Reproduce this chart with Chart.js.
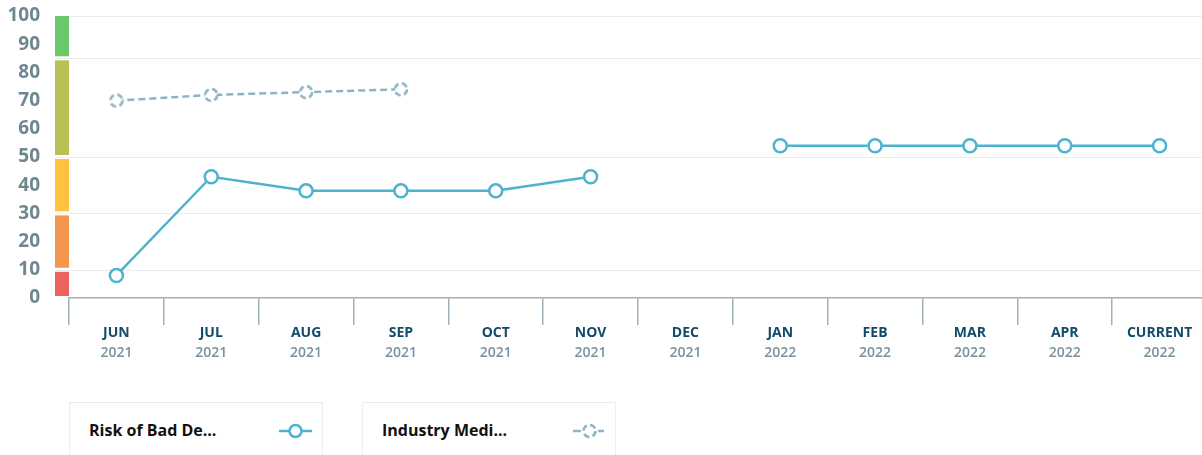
<!DOCTYPE html>
<html><head><meta charset="utf-8">
<script src="https://cdn.jsdelivr.net/npm/chart.js@4.4.0/dist/chart.umd.min.js"></script>
<style>
html,body{margin:0;padding:0;background:#fff;width:1202px;height:455px;overflow:hidden;font-family:"Open Sans",sans-serif}
body{position:relative}
#wrap{position:absolute;left:0;top:0;width:1207px;height:385px}
.leg{position:absolute;top:402px;height:70px;width:254px;border:1px solid #ececec;box-sizing:border-box;background:#fff}
.leg span{position:absolute;left:19px;top:16px;font-weight:700;font-size:16px;line-height:22px;color:#111;white-space:nowrap}
.leg svg{position:absolute;top:19px}
</style></head>
<body>
<div id="wrap"><canvas id="c"></canvas></div>
<div class="leg" id="leg1" style="left:69px"><span id="lt1"></span>
<svg style="left:208px" width="36" height="18"><line x1="1" y1="9" x2="34" y2="9" stroke="#4db3cf" stroke-width="2.5"/><circle cx="17.5" cy="9" r="6" fill="#fff" stroke="#4db3cf" stroke-width="2.5"/></svg></div>
<div class="leg" id="leg2" style="left:362px"><span id="lt2"></span>
<svg style="left:209px" width="36" height="18"><line x1="1" y1="9" x2="9" y2="9" stroke="#8db4c5" stroke-width="2.5"/><line x1="26" y1="9" x2="32" y2="9" stroke="#8db4c5" stroke-width="2.5"/><circle cx="17.5" cy="9" r="6" fill="#fff" stroke="#8db4c5" stroke-width="2.5" stroke-dasharray="6,3.4"/></svg></div>
<script>
const months = ['JUN','JUL','AUG','SEP','OCT','NOV','DEC','JAN','FEB','MAR','APR','CURRENT'];
const years = ['2021','2021','2021','2021','2021','2021','2021','2022','2022','2022','2022','2022'];
const riskValues = [8,43,38,38,38,43,null,54,54,54,54,54];
const industryValues = [70,72,73,74,null,null,null,null,null,null,null,null];
const seriesNames = ['Risk of Bad Debt','Industry Median'];
const legendTexts = ['Risk of Bad De...','Industry Medi...'];
const yTicks = [0,10,20,30,40,50,60,70,80,90,100];
const bandLimits = [0,10,30,50,85,100];
const bandColors = ['#ec625e','#f5964f','#ffc23f','#b8c254','#6cc76b'];

document.getElementById('lt1').textContent = legendTexts[0];
document.getElementById('lt2').textContent = legendTexts[1];

const RISK = '#4db3cf', IND = '#8db4c5';
function dashedCircle(){
  const c = document.createElement('canvas');
  c.width = 18; c.height = 18;
  const g = c.getContext('2d');
  g.beginPath(); g.arc(9,9,6,0,Math.PI*2);
  g.fillStyle='#fff'; g.fill();
  g.setLineDash([6,3.5]); g.lineWidth=2.5; g.strokeStyle=IND; g.stroke();
  return c;
}
function noPad(s){ s.paddingTop = 0; s.paddingBottom = 0; s.paddingLeft = 0; s.paddingRight = 0; }

const bandsPlugin = {
  id:'bands',
  beforeDatasetsDraw(chart){
    const y = chart.scales.y, a = chart.chartArea, ctx = chart.ctx;
    ctx.save();
    ctx.strokeStyle = '#ececec'; ctx.lineWidth = 1;
    bandLimits.slice(1).forEach(v=>{
      const py = Math.round(y.getPixelForValue(v))+0.5;
      ctx.beginPath(); ctx.moveTo(a.left-14, py); ctx.lineTo(a.right, py); ctx.stroke();
    });
    for(let i=0;i<bandColors.length;i++){
      const top = y.getPixelForValue(bandLimits[i+1]) + (i===bandColors.length-1 ? 0 : 2);
      const bot = y.getPixelForValue(bandLimits[i]) - 2;
      ctx.fillStyle = bandColors[i];
      ctx.fillRect(a.left-14, top, 14, bot-top);
    }
    ctx.restore();
  }
};

new Chart(document.getElementById('c'), {
  type:'line',
  data:{
    labels: months,
    datasets:[
      {label:seriesNames[0], data:riskValues, borderColor:RISK, borderWidth:2.5, pointRadius:6.5, pointBorderWidth:2.5, pointBackgroundColor:'#fff', pointBorderColor:RISK, spanGaps:false, tension:0, xAxisID:'x'},
      {label:seriesNames[1], data:industryValues, borderColor:IND, borderWidth:2.5, borderDash:[7,4], pointStyle:dashedCircle(), pointRadius:7, spanGaps:false, tension:0, xAxisID:'x'}
    ]
  },
  options:{
    responsive:true, maintainAspectRatio:false, animation:false,
    layout:{autoPadding:false, padding:{top:16,right:0,left:0,bottom:0}},
    plugins:{legend:{display:false}, tooltip:{enabled:false}},
    events:[],
    scales:{
      y:{
        min:0,max:100,
        afterBuildTicks(s){ s.ticks = yTicks.map(v=>({value:v})); },
        afterFit(s){ s.width = 69; noPad(s); },
        grid:{display:false, drawTicks:false},
        border:{display:false},
        ticks:{padding:29, autoSkip:false, color:'#6f8791', font:{family:'"Open Sans"', size:19, weight:'bold'}}
      },
      x:{
        type:'category', position:'bottom', offset:true, weight:0,
        afterFit(s){ s.height = 47; noPad(s); },
        grid:{drawOnChartArea:false, drawTicks:true, tickLength:27, color:'#9fb0b8', offset:true, lineWidth:1.5},
        border:{display:true, color:'#9fb0b8', width:1.5},
        ticks:{padding:0, autoSkip:false, maxRotation:0, color:'#114b6b', font:{family:'"Open Sans"', size:14, weight:'bold'}}
      },
      x2:{
        type:'category', position:'bottom', offset:true, weight:1, labels: years,
        afterFit(s){ s.height = 40; noPad(s); },
        grid:{display:false, drawTicks:false},
        border:{display:false},
        ticks:{padding:0, autoSkip:false, maxRotation:0, color:'#7a929c', font:{family:'"Open Sans"', size:14, weight:'600'}}
      }
    }
  },
  plugins:[bandsPlugin]
});
</script>
</body></html>
